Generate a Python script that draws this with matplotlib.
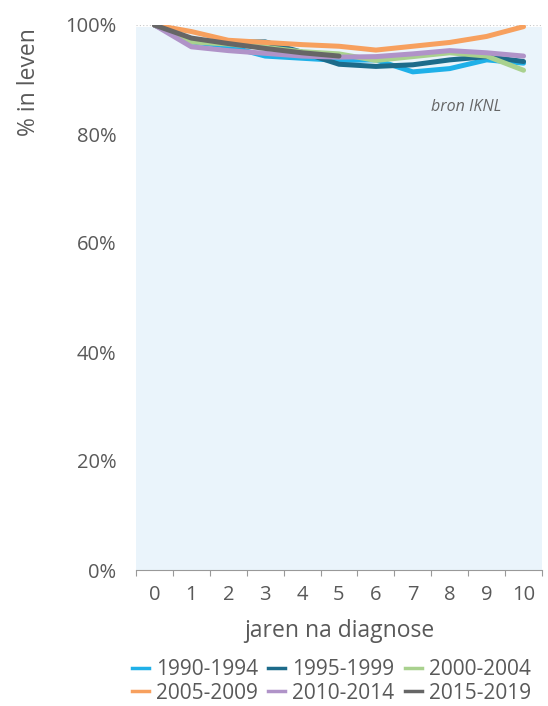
import matplotlib
matplotlib.use("Agg")
import matplotlib.pyplot as plt
from matplotlib.ticker import FixedLocator, FuncFormatter
from matplotlib.lines import Line2D

years = list(range(11))
series_names = ["1990-1994", "1995-1999", "2000-2004", "2005-2009", "2010-2014", "2015-2019"]
s1990 = [100, 96.9, 96.1, 94.3, 93.9, 93.5, 93.6, 91.4, 92.0, 93.6, 93.0]
s1995 = [100, 97.2, 96.8, 96.9, 95.0, 92.8, 92.4, 92.7, 93.6, 94.2, 93.3]
s2000 = [100, 96.9, 96.5, 95.9, 95.1, 94.7, 93.5, 94.2, 94.9, 94.3, 91.7]
s2005 = [100, 98.8, 97.2, 96.8, 96.4, 96.1, 95.4, 96.1, 96.8, 97.9, 99.7]
s2010 = [100, 96.0, 95.3, 94.8, 94.3, 94.1, 94.2, 94.7, 95.3, 94.9, 94.3]
s2015 = [100, 97.6, 96.6, 95.7, 94.9, 94.3]
all_series = [s1990, s1995, s2000, s2005, s2010, s2015]
colors = ["#1fb0e8", "#1d6b8a", "#a9d18e", "#f7a05e", "#b093c8", "#666666"]
y_ticks = [0, 20, 40, 60, 80, 100]

text_col = "#595959"
plt.rcParams["font.family"] = ["Open Sans", "DejaVu Sans"]

fig = plt.figure(figsize=(5.48, 7.06), dpi=100)
ax = fig.add_axes([136/548, 1-570/706, 406/548, 545/706])
ax.set_xlim(-0.5, 10.5)
ax.set_ylim(0, 100)
ax.set_facecolor("white")
ax.axhspan(0, 99.7, color="#eaf4fb", zorder=1, lw=0)

for vals, col, name in zip(all_series, colors, series_names):
    ax.plot(years[:len(vals)], vals, color=col, lw=3.6, solid_capstyle="round",
            solid_joinstyle="round", zorder=3, label=name)

ax.set_yticks(y_ticks)
ax.yaxis.set_major_formatter(FuncFormatter(lambda v, p: f"{int(v)}%"))
ax.grid(axis="y", linestyle=(0, (1, 2)), color="#c8c8c8", lw=0.8)
ax.set_axisbelow(True)
ax.tick_params(axis="y", length=0, pad=14, labelsize=14.5, labelcolor=text_col)

ax.set_xticks(years)
ax.xaxis.set_minor_locator(FixedLocator([i - 0.5 for i in range(12)]))
ax.tick_params(axis="x", which="major", length=0, pad=11, labelsize=14.5, labelcolor=text_col)
ax.tick_params(axis="x", which="minor", length=4, width=0.8, color="#999999", direction="out")

for s in ["left", "right", "top"]:
    ax.spines[s].set_visible(False)
ax.spines["bottom"].set_color("#999999")
ax.spines["bottom"].set_linewidth(0.8)

ax.set_xlabel("jaren na diagnose", fontsize=16.5, color=text_col, labelpad=10)
ax.set_ylabel("% in leven", fontsize=16.5, color=text_col)
ax.yaxis.set_label_coords(-0.235, 0.895)

ax.text(9.4, 85, "bron IKNL", ha="right", va="center", fontsize=11.5,
        style="italic", color="#666666", zorder=4)

order = [0, 3, 1, 4, 2, 5]
handles = [Line2D([0], [0], color=colors[i], lw=2.5) for i in order]
labels = [series_names[i] for i in order]
leg = fig.legend(handles, labels, loc="center", bbox_to_anchor=(0.605, 0.035),
                 ncol=3, frameon=False, fontsize=15, handlelength=0.8,
                 handletextpad=0.35, columnspacing=0.5, labelspacing=0.12)
for t in leg.get_texts():
    t.set_color(text_col)

fig.savefig("out.png", dpi=100)
